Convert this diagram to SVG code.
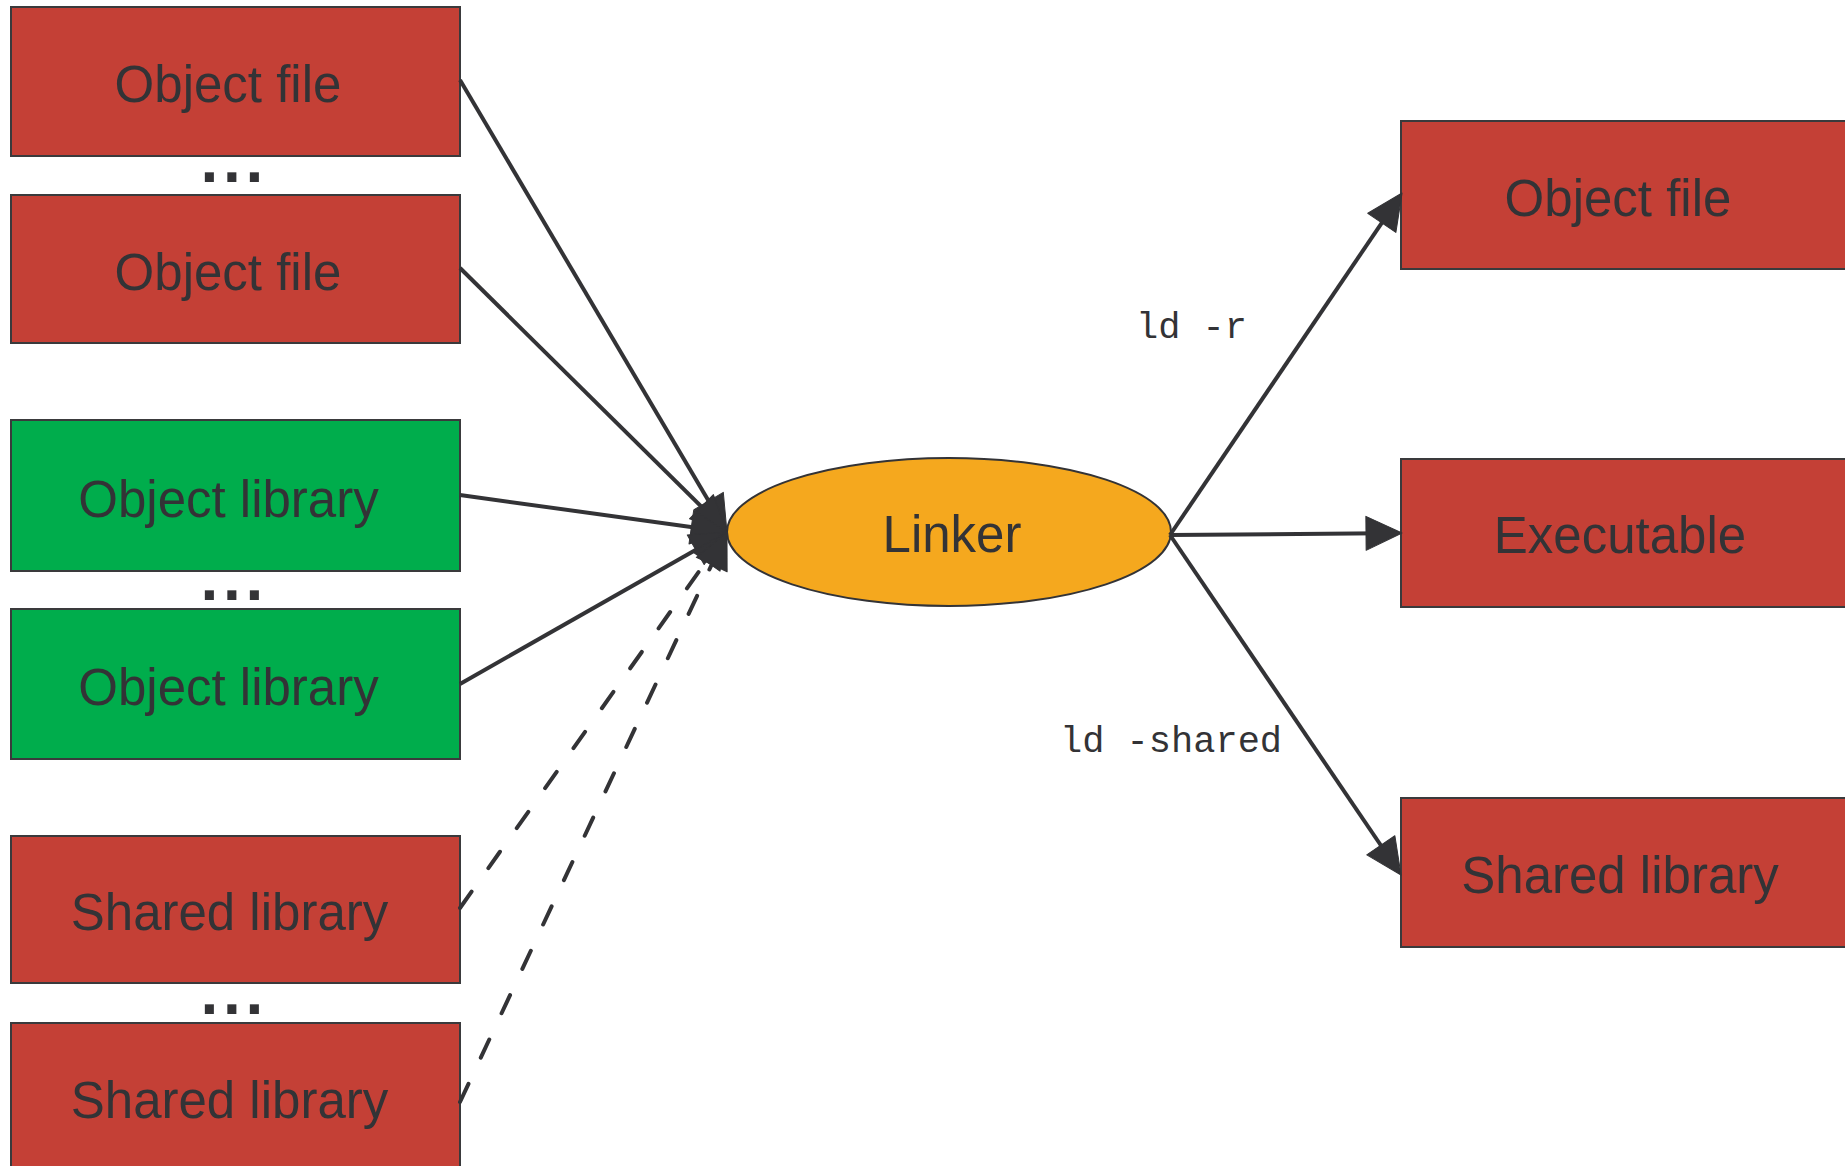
<svg xmlns="http://www.w3.org/2000/svg" width="1845" height="1166" viewBox="0 0 1845 1166">
  <style>
    .box { stroke: #3a3a3c; stroke-width: 2; }
    .red { fill: #c44036; }
    .green { fill: #00ad4c; }
    .label { font-family: "Liberation Sans", Arial, sans-serif; font-size: 51px; fill: #333336; text-anchor: middle; }
    .dots { font-family: "Liberation Sans", Arial, sans-serif; font-weight: bold; font-size: 64px; letter-spacing: 4.7px; fill: #333336; }
    .cmd { font-family: "Courier New", "Liberation Mono", monospace; font-size: 37px; fill: #333336; }
    .edge { fill: none; stroke: #333336; stroke-width: 4; marker-end: url(#arrow); }
    .dashed { stroke-dasharray: 20 29; stroke-linecap: round; }
  </style>
  <defs>
    <marker id="arrow" markerUnits="userSpaceOnUse" markerWidth="40" markerHeight="40" refX="16" refY="17" orient="auto" overflow="visible">
      <path d="M0,0 L36,17 L0,34 Z" fill="#333336" stroke="#333336" stroke-width="1" stroke-linejoin="round"/>
    </marker>
  </defs>

  <rect width="1845" height="1166" fill="#ffffff"/>

  <!-- inputs -->
  <g id="obj-file-1">
    <rect class="box red" x="11" y="7" width="449" height="149"/>
    <text class="label" x="228" y="102">Object file</text>
  </g>
  <text class="dots" x="200.6" y="182">...</text>
  <g id="obj-file-2">
    <rect class="box red" x="11" y="195" width="449" height="148"/>
    <text class="label" x="228" y="289.5">Object file</text>
  </g>

  <g id="obj-lib-1">
    <rect class="box green" x="11" y="420" width="449" height="151"/>
    <text class="label" x="228.5" y="516.5">Object library</text>
  </g>
  <text class="dots" x="200.6" y="600">...</text>
  <g id="obj-lib-2">
    <rect class="box green" x="11" y="609" width="449" height="150"/>
    <text class="label" x="228.5" y="705">Object library</text>
  </g>

  <g id="shared-lib-1">
    <rect class="box red" x="11" y="836" width="449" height="147"/>
    <text class="label" x="229.5" y="930">Shared library</text>
  </g>
  <text class="dots" x="200.6" y="1014">...</text>
  <g id="shared-lib-2">
    <rect class="box red" x="11" y="1023" width="449" height="150"/>
    <text class="label" x="229.5" y="1118">Shared library</text>
  </g>

  <!-- linker -->
  <g id="linker">
    <ellipse cx="949" cy="532" rx="222" ry="74" fill="#f5a81e" stroke="#333336" stroke-width="2"/>
    <text class="label" x="952" y="551.5">Linker</text>
  </g>

  <!-- outputs -->
  <g id="out-obj-file">
    <rect class="box red" x="1401" y="121" width="449" height="148"/>
    <text class="label" x="1618" y="216">Object file</text>
  </g>
  <g id="out-executable">
    <rect class="box red" x="1401" y="459" width="449" height="148"/>
    <text class="label" x="1620" y="553">Executable</text>
  </g>
  <g id="out-shared-lib">
    <rect class="box red" x="1401" y="798" width="449" height="149"/>
    <text class="label" x="1620" y="892.5">Shared library</text>
  </g>

  <!-- connectors -->
  <g id="connectors">
    <path class="edge" d="M460,80 L716.8,514.8"/>
    <path class="edge" d="M460,268 L712.8,517.9"/>
    <path class="edge" d="M460,495 L707.2,529.3"/>
    <path class="edge" d="M460,684 L709.6,541.9"/>
    <path class="edge dashed" d="M460,908 L715.4,548.3"/>
    <path class="edge dashed" d="M460,1102 L718.5,550.1"/>

    <path class="edge" d="M1170,535 L1390.8,209.6"/>
    <path class="edge" d="M1170,535 L1382,533.2"/>
    <path class="edge" d="M1170,535 L1389.8,858.5"/>

    <text class="cmd" x="1136" y="337.5">ld -r</text>
    <text class="cmd" x="1060" y="751.5">ld -shared</text>
  </g>
</svg>
